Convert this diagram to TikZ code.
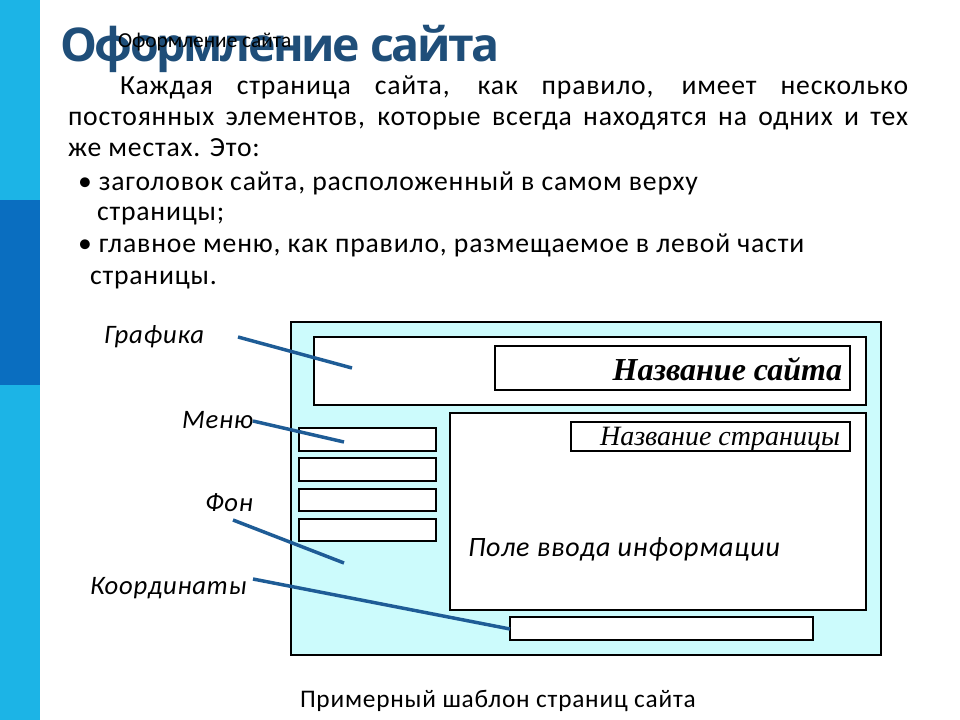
\documentclass[tikz,border=0pt]{standalone}
\usepackage{fontspec}
\usetikzlibrary{fit}
\setmainfont{Carlito}
\newfontfamily\bodyf[LetterSpace=3]{Carlito}
\newfontfamily\titlef[LetterSpace=-5]{Open Sans}
\newfontfamily\serf{Liberation Serif}
\definecolor{barcyan}{RGB}{28,180,230}
\definecolor{bardark}{RGB}{10,110,192}
\definecolor{titleblue}{RGB}{31,78,121}
\definecolor{pagefill}{RGB}{204,251,252}
\definecolor{leader}{RGB}{30,92,150}
\tikzset{
  txt/.style={anchor=base west, inner sep=0pt, outer sep=0pt},
  frame/.style={draw=black, line width=0.8pt, inner sep=0pt},
  leaderline/.style={draw=leader, line width=2.6pt},
  body/.style={txt, font=\bodyf\fontsize{20.75}{24}\selectfont},
  lbl/.style={txt, font=\bodyf\itshape\fontsize{20}{22}\selectfont},
}
\begin{document}
\begin{tikzpicture}[x=0.75pt,y=-0.75pt]
\useasboundingbox (0,0) rectangle (960,720);
\fill[white] (0,0) rectangle (960,720);
% left bar
\fill[barcyan] (0,0) rectangle (40,720);
\fill[bardark] (0,200) rectangle (40,385);
% title
\node[txt, text=titleblue, font=\titlef\bfseries\fontsize{37}{40}\selectfont] (title) at (60,62) {\resizebox{330pt}{!}{\scalebox{1}{Оформление сайта}}};
\node[txt, font=\fontsize{16}{18}\selectfont] (ghost) at (118,48) {Оформление сайта};
% paragraph
\node[body] (p1) at (120,95) {\makebox[591pt][s]{Каждая страница сайта, как правило, имеет несколько}};
\node[body] (p2) at (68,126) {\makebox[630pt][s]{постоянных элементов, которые всегда находятся на одних и тех}};
\node[body] (p3) at (68,157) {же местах. Это:};
\node[body] (b1) at (78,191) {• заголовок сайта, расположенный в самом верху};
\node[body] (b1b) at (97,221) {страницы;};
\node[body] (b2) at (78,253) {• главное меню, как правило, размещаемое в левой части};
\node[body] (b2b) at (90,285) {страницы.};
% page template
\node[frame, fill=pagefill, fit={(291,322)(881,655)}] (page) {};
\node[frame, fill=white, fit={(314,337)(866,405)}] (header) {};
\node[frame, fill=white, fit={(495,346)(850,390)}] (sitename) {};
\node[txt, anchor=base east, font=\serf\bfseries\itshape\fontsize{24}{26}\selectfont] (sitenametxt) at (842,380) {Название сайта};
\node[frame, fill=white, fit={(450,413)(866,610)}] (content) {};
\node[frame, fill=white, fit={(571,422)(850,451)}] (pagename) {};
\node[txt, anchor=base east, font=\serf\itshape\fontsize{21}{23}\selectfont] (pagenametxt) at (840,445) {Название страницы};
\node[txt, font=\bodyf\itshape\fontsize{21}{23}\selectfont] (input) at (468,556) {Поле ввода информации};
\node[frame, fill=white, fit={(299,428)(436,451)}] (m1) {};
\node[frame, fill=white, fit={(299,458)(436,481)}] (m2) {};
\node[frame, fill=white, fit={(299,489)(436,511)}] (m3) {};
\node[frame, fill=white, fit={(299,519)(436,541)}] (m4) {};
\node[frame, fill=white, fit={(510,617)(813,640)}] (coords) {};
% labels
\node[lbl] (lgraf) at (104,343) {Графика};
\node[lbl] (lmenu) at (182,428) {Меню};
\node[lbl] (lfon) at (205,511) {Фон};
\node[lbl] (lkoord) at (90,594) {Координаты};
% leader ends
\coordinate (g0) at (238,337); \coordinate (g1) at (352,368);
\coordinate (n0) at (253,421); \coordinate (n1) at (344,442);
\coordinate (f0) at (233,520); \coordinate (f1) at (344,563);
\coordinate (k0) at (253,579); \coordinate (k1) at (510,629);
\draw[leaderline] (g0) -- (g1);
\draw[leaderline] (n0) -- (n1);
\draw[leaderline] (f0) -- (f1);
\draw[leaderline] (k0) -- (k1);
% caption
\node[txt, font=\bodyf\fontsize{19}{21}\selectfont] (caption) at (300,707) {Примерный шаблон страниц сайта};
\end{tikzpicture}
\end{document}
